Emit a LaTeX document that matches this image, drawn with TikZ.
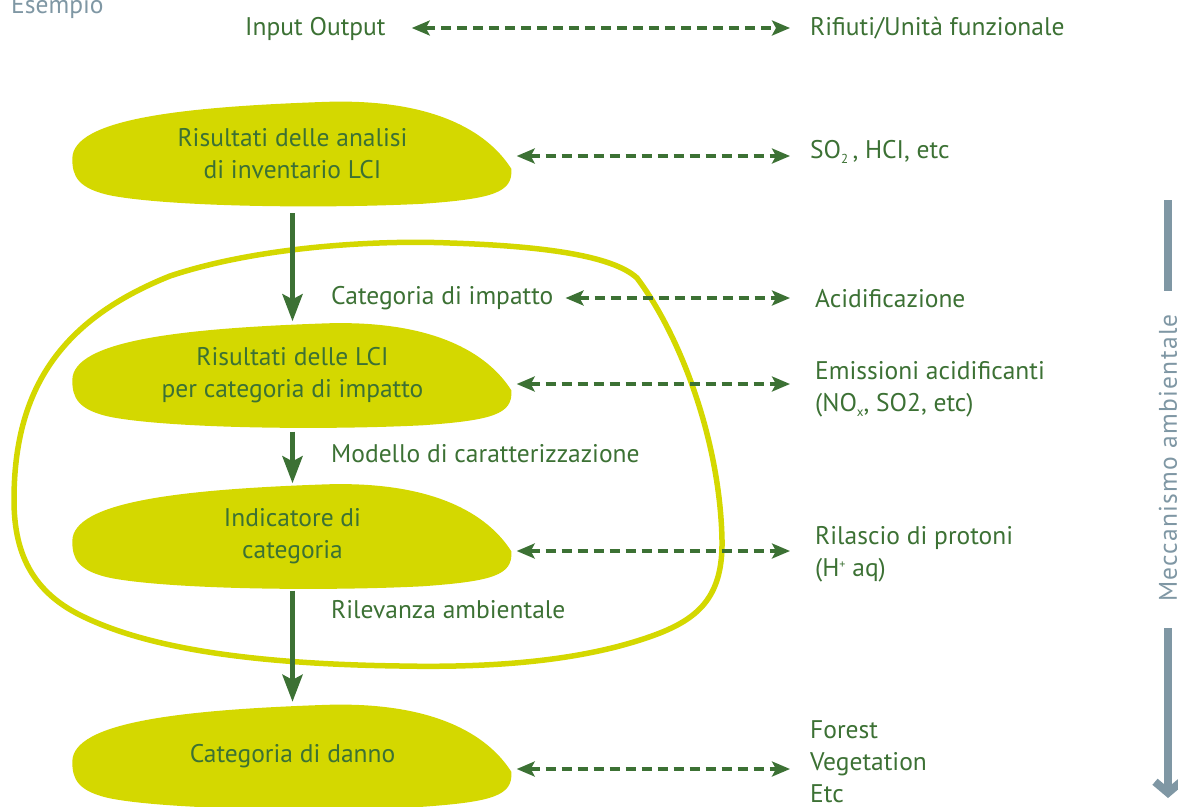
\documentclass[tikz,border=0pt]{standalone}
\usepackage{fontspec}
\setmainfont{PT Sans}
\usetikzlibrary{arrows.meta,backgrounds}

\definecolor{leaf}{HTML}{3C7134}
\definecolor{lime}{HTML}{D4D800}
\definecolor{slate}{HTML}{7F97A4}

\newcommand{\lowsub}[1]{\raisebox{-5pt}{\fontsize{13}{13}\selectfont #1}}
\newcommand{\highsup}[1]{\raisebox{8pt}{\fontsize{12}{12}\selectfont #1}}

\tikzset{
  txt/.style={text=leaf, font=\fontsize{25.5}{32}\selectfont, inner sep=0pt, align=left},
  stagebox/.style={text=leaf, font=\fontsize{25.5}{32}\selectfont, align=center,
    minimum width=440pt, minimum height=105pt, inner sep=0pt},
  flow/.style={leaf, line width=5pt, -{Stealth[length=27pt, width=20pt, inset=5pt]}},
  link/.style={leaf, line width=3.2pt, dash pattern=on 10pt off 6pt,
    {Stealth[length=18pt, width=15pt, inset=4pt]}-{Stealth[length=18pt, width=15pt, inset=4pt]}},
  gbar/.style={slate, line width=8pt},
  pics/blob/.style={code={
    \fill[lime] (0,58) .. controls (0,18) and (110,6) .. (255,1)
      .. controls (360,-2) and (415,30) .. (439,68)
      .. controls (441,92) and (420,98) .. (350,103)
      .. controls (250,108) and (100,106) .. (40,95)
      .. controls (5,88) and (0,75) .. (0,58) -- cycle;
  }}
}

\begin{document}
\begin{tikzpicture}[x=1pt, y=-1pt]
\useasboundingbox (0,0) rectangle (1178,806);

% stages
\node[stagebox] (b1) at (292.5,153.5) {Risultati delle analisi\\di inventario LCI};
\node[stagebox] (b2) at (292.5,375) {Risultati delle LCI\\per categoria di impatto};
\node[stagebox] (b3) at (292.5,536) {Indicatore di\\categoria};
\node[stagebox] (b4) at (292.5,756.5) {Categoria di danno};

\begin{scope}[on background layer]
  \pic at (b1.north west) {blob};
  \pic at (b2.north west) {blob};
  \pic at (b3.north west) {blob};
  \pic at (b4.north west) {blob};
  % boundary of the characterisation steps
  \draw[lime, line width=5.5pt]
    (14,500) .. controls (14,390) and (60,320) .. (170,276)
    .. controls (260,246) and (380,240) .. (450,243)
    .. controls (540,246) and (612,255) .. (637,278)
    .. controls (680,335) and (720,440) .. (722,540)
    .. controls (723,595) and (700,617) .. (660,633)
    .. controls (590,660) and (500,668) .. (400,666)
    .. controls (260,664) and (150,650) .. (80,615)
    .. controls (30,590) and (14,550) .. (14,500) -- cycle;
\end{scope}

% example column header
\node[txt, text=slate, anchor=base west] (ex) at (11,13) {Esempio};

% left labels
\node[txt, anchor=base west] (io) at (245,35) {Input Output};
\node[txt, anchor=base west] (cat) at (331,304) {Categoria di impatto};
\node[txt, anchor=base west] (mod) at (331,462) {Modello di caratterizzazione};
\node[txt, anchor=base west] (ril) at (331,618) {Rilevanza ambientale};

% right examples (base anchor = baseline of the last line)
\node[txt, anchor=base west] (r1) at (810,35) {Rifiuti/Unità funzionale};
\node[txt, anchor=base west] (r2) at (810,158) {SO\lowsub{2}\,, HCI, etc};
\node[txt, anchor=base west] (r3) at (815,307) {Acidificazione};
\node[txt, anchor=base west] (r4) at (815,411) {Emissioni acidificanti\\(NO\lowsub{x}, SO2, etc)};
\node[txt, anchor=base west] (r5) at (815,576) {Rilascio di protoni\\(H\highsup{+} aq)};
\node[txt, anchor=base west] (r6) at (810,802) {Forest\\Vegetation\\Etc};

% arrow ends on the example side
\coordinate (e1) at (790,28);
\coordinate (e2) at (790,156);
\coordinate (e3) at (790,298);
\coordinate (e4) at (790,384);
\coordinate (e5) at (790,551);
\coordinate (e6) at (790,769);

% main flow
\draw[flow, shorten <=7pt, shorten >=1pt] (b1.south) -- (b2.north);
\draw[flow, shorten <=4pt] (b2.south) -- (b3.north);
\draw[flow, shorten <=2pt, shorten >=2pt] (b3.south) -- (b4.north);

% correspondences with the examples
\draw[link, shorten <=26pt] (io.east |- e1) -- (e1);
\draw[link, shorten <=4pt] (b1.east |- e2) -- (e2);
\draw[link, shorten <=12pt] (cat.east |- e3) -- (e3);
\draw[link, shorten <=4pt] (b2.east |- e4) -- (e4);
\draw[link, shorten <=4pt] (b3.east |- e5) -- (e5);
\draw[link, shorten <=4pt] (b4.east |- e6) -- (e6);

% environmental mechanism axis
\node[txt, text=slate, rotate=90, font=\fontsize{25.5}{32}\selectfont\addfontfeature{LetterSpace=5}] (mech) at (1168,458) {Meccanismo ambientale};
\coordinate (g1) at (1168,200);
\coordinate (g2) at (1168,291);
\coordinate (g3) at (1168,628);
\coordinate (g4) at (1168,798);
\draw[gbar] (g1) -- (g2);
\draw[gbar, -{Straight Barb[length=11pt, width=26pt]}] (g3) -- (g4);
\end{tikzpicture}
\end{document}
